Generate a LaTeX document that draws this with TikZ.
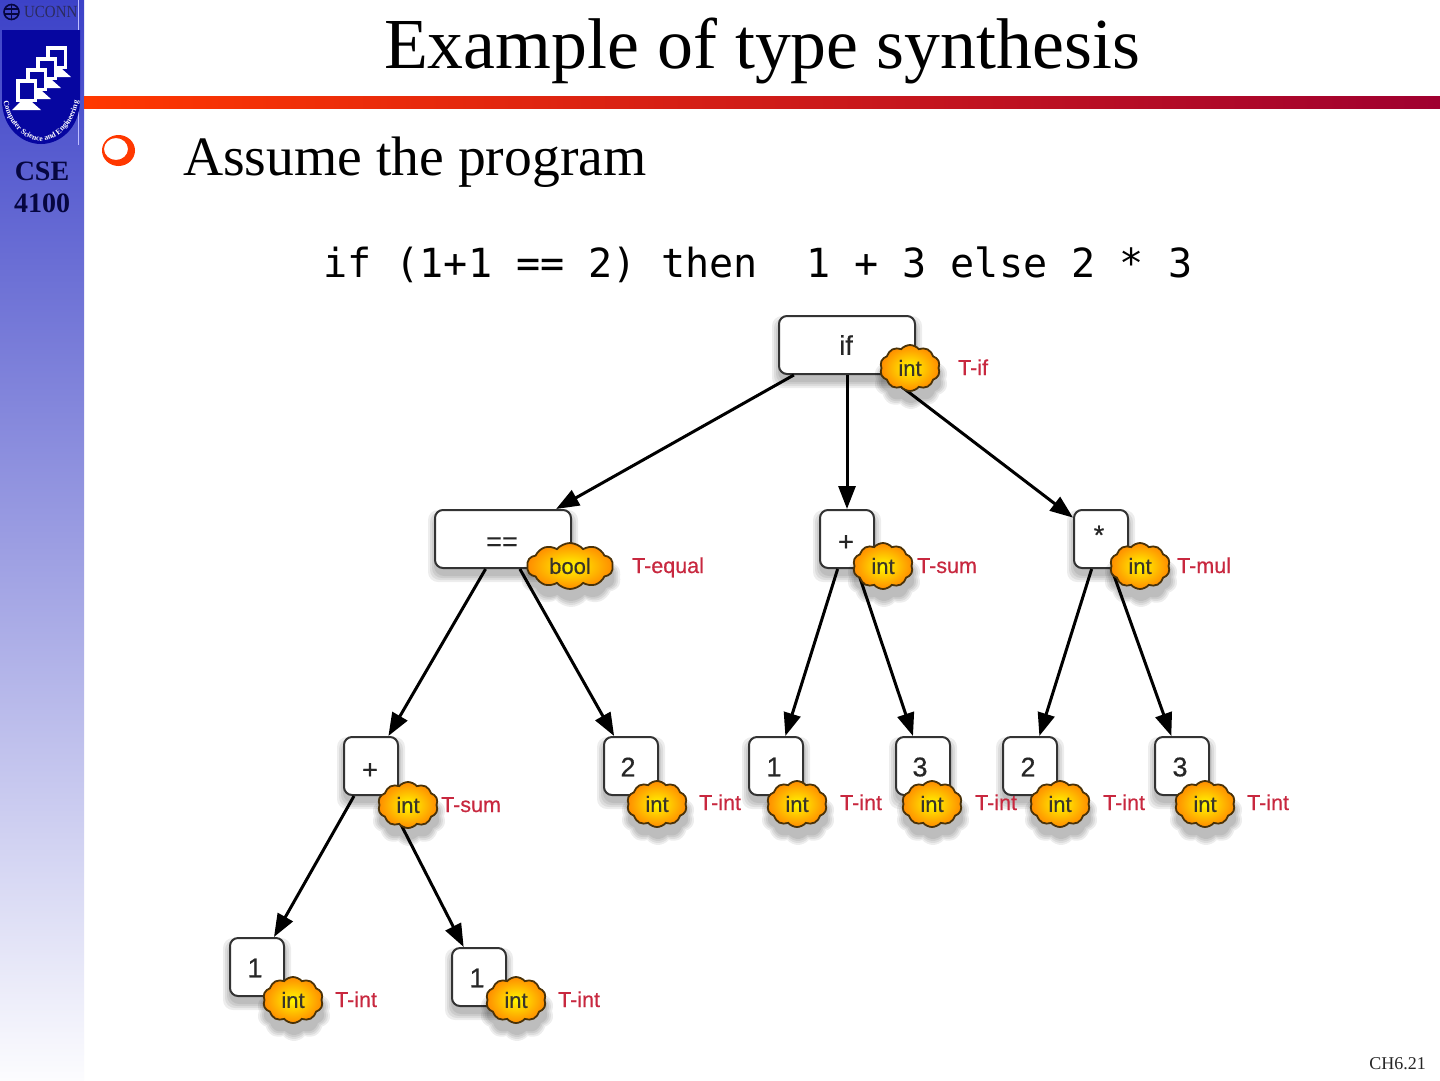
\documentclass[tikz,border=0pt]{standalone}
\usepackage{fontspec}
\setmainfont{Liberation Serif}
\newfontfamily\codefont{DejaVu Sans Mono}
\newfontfamily\diafont[FakeBold=0.5]{Liberation Sans}
\usetikzlibrary{shapes.symbols,arrows.meta,decorations.text}
\definecolor{navy}{HTML}{060640}
\definecolor{shieldblue}{HTML}{0606A0}
\definecolor{labred}{HTML}{C8283F}
\definecolor{cloudedge}{HTML}{4A3208}
\definecolor{sidetop}{RGB}{60,66,200}
\definecolor{sidemid}{RGB}{155,157,226}
\definecolor{sidebot}{RGB}{252,252,254}
\definecolor{barleft}{RGB}{255,56,0}
\definecolor{barright}{RGB}{160,0,48}
\tikzset{
  treebox/.style={draw=black!80,line width=2pt,rounded corners=8pt,fill=white,minimum height=58pt,inner sep=0pt},
  shadowbox/.style={fill=black,draw=none,rounded corners=10pt,opacity=0.07,inner sep=0pt},
  cloudshape/.style={cloud,cloud puffs=10,cloud puff arc=100,cloud ignores aspect,inner sep=0pt},
  typecloud/.style={cloudshape,draw=cloudedge,line width=1.8pt,inner color=yellow!95!orange,outer color=orange!90!yellow,font=\diafont\fontsize{22}{22}\selectfont,text=black!80!olive},
  shadowcloud/.style={cloudshape,fill=black,draw=none,opacity=0.07},
  boxtext/.style={font=\diafont\fontsize{27}{27}\selectfont,text=black!85,inner sep=0pt},
  rulelabel/.style={anchor=base west,inner sep=0pt,font=\diafont\fontsize{21.5}{22}\selectfont,text=labred},
  edge/.style={line width=3pt,black,-{Triangle[length=23pt,width=17pt]}},
  mon/.style={fill=white,draw=none},
  slidetext/.style={anchor=base west,inner sep=0pt}
}
% name, cx, cy, width
\newcommand{\treenode}[4]{%
  \foreach \g in {14,10,6,2}{\node[shadowbox,minimum width=#4pt+\g pt,minimum height=58pt+\g pt] at (#2,#3+7) {};}
  \node[treebox,minimum width=#4pt] (#1) at (#2,#3) {};
}
% name, cx, cy, width, height, text
\newcommand{\typecloud}[6]{%
  \foreach \g in {14,10,6,2}{\node[shadowcloud,minimum width=#4pt+\g pt,minimum height=#5pt+\g pt] at (#2+1,#3+11) {};}
  \node[typecloud,minimum width=#4pt,minimum height=#5pt] (#1) at (#2,#3) {#6};
}
\newcommand{\monitor}[2]{% left, top
  \fill[mon] (#1,#2) rectangle ++(21,23);
  \fill[shieldblue] (#1+3.5,#2+3.5) rectangle ++(14,16);
  \fill[mon] (#1+4,#2+23) -- ++(12,0) -- ++(9,8) -- ++(-29,0) -- cycle;
}
\begin{document}
\begin{tikzpicture}[x=1pt,y=-1pt]
\useasboundingbox (0,0) rectangle (1440,1080);
\fill[white] (0,0) rectangle (1440,1080);
% sidebar
\shade[top color=sidetop,bottom color=sidebot,middle color=sidemid] (0,0) rectangle (84,1080);
% bar
\shade[left color=barleft,right color=barright] (84,96) rectangle (1440,108);
% logo
\draw[white!75!blue,line width=0.7pt] (78,0) -- (78,145);
\draw[navy,line width=1.6pt] (11.5,12) circle (7.5);
\draw[navy,line width=1.2pt] (11.5,4) -- (11.5,20) (5,9) -- (18,9) (5,14) -- (18,14);
\node[inner sep=0pt,anchor=west,xscale=0.88,text=navy!85!white,font=\fontsize{17}{17}\selectfont] (uconn) at (24,12) {UCONN};
\fill[shieldblue] (2,30) -- (80,30) -- (80,100) .. controls (80,128) and (60,144) .. (41,144) .. controls (22,144) and (2,128) .. (2,100) -- cycle;
\monitor{46}{46}
\monitor{36}{57}
\monitor{26}{68}
\monitor{16}{79}
\path[postaction={decorate,decoration={text along path,text align=center,text={|\fontsize{7.8}{8}\selectfont\bfseries\color{white}|Computer Science and Engineering}}}] (3,98) .. controls (7,125) and (25,141) .. (41,141) .. controls (57,141) and (75,125) .. (79,98);
\node[inner sep=0pt,text=navy,align=center,font=\bfseries\fontsize{28}{32}\selectfont] (course) at (42,187) {CSE\\4100};
% title and text
\node[inner sep=0pt,anchor=base,font=\fontsize{71.8}{72}\selectfont] (title) at (762,68) {Example of type synthesis};
\fill[even odd rule,barleft] (118.5,150.5) ellipse (16.5 and 15.5) (116,149) ellipse (12 and 11);
\node[slidetext,font=\fontsize{55.6}{56}\selectfont] (assume) at (183,175) {Assume the program};
\node[slidetext,font=\codefont\fontsize{40.1}{40}\selectfont] (code) at (323,277) {if (1+1 == 2) then\ \ 1 + 3 else 2 * 3};
\node[anchor=base east,inner sep=0pt,font=\fontsize{18}{18}\selectfont,text=black!85] (page) at (1426,1069) {CH6.21};
% tree boxes
\treenode{nif}{847}{345}{136}
\treenode{neq}{503}{539}{136}
\treenode{nsum}{847}{539}{54}
\treenode{nmul}{1101}{539}{54}
\treenode{nplus}{371}{766}{54}
\treenode{ntwo}{631}{766}{54}
\treenode{none}{776}{766}{54}
\treenode{nthree}{923}{766}{54}
\treenode{ntwob}{1030}{766}{54}
\treenode{nthreeb}{1182}{766}{54}
\treenode{nla}{257}{967}{54}
\treenode{nlb}{479}{977}{54}
% box texts
\node[boxtext] (tif) at (846,345) {if};
\node[boxtext] (teq) at (502,544) {==};
\node[boxtext] (tsum) at (846,543) {+};
\node[boxtext] (tmul) at (1099,535) {*};
\node[boxtext] (tplus) at (370,771) {+};
\node[boxtext] (ttwo) at (628,767) {2};
\node[boxtext] (tone) at (774,767) {1};
\node[boxtext] (tthree) at (920,767) {3};
\node[boxtext] (ttwob) at (1028,767) {2};
\node[boxtext] (tthreeb) at (1180,767) {3};
\node[boxtext] (tla) at (255,968) {1};
\node[boxtext] (tlb) at (477,978) {1};
% edges
\draw[edge] (nif) -- (neq);
\draw[edge] (nif) -- (nsum);
\draw[edge] (nif) -- (nmul);
\draw[edge] (neq) -- (nplus);
\draw[edge] (neq) -- (ntwo);
\draw[edge] (nsum) -- (none);
\draw[edge] (nsum) -- (nthree);
\draw[edge] (nmul) -- (ntwob);
\draw[edge] (nmul) -- (nthreeb);
\draw[edge] (nplus) -- (nla);
\draw[edge] (nplus) -- (nlb);
% clouds
\typecloud{cif}{910}{368}{60}{46}{int}
\typecloud{ceq}{570}{566}{86}{46}{bool}
\typecloud{csum}{883}{566}{60}{46}{int}
\typecloud{cmul}{1140}{566}{60}{46}{int}
\typecloud{cplus}{408}{805}{60}{46}{int}
\typecloud{ctwo}{657}{804}{60}{46}{int}
\typecloud{cone}{797}{804}{60}{46}{int}
\typecloud{cthree}{932}{804}{60}{46}{int}
\typecloud{ctwob}{1060}{804}{60}{46}{int}
\typecloud{cthreeb}{1205}{804}{60}{46}{int}
\typecloud{cla}{293}{1000}{60}{46}{int}
\typecloud{clb}{516}{1000}{60}{46}{int}
% rule labels
\node[rulelabel] (rif) at (958,375) {T-if};
\node[rulelabel] (req) at (632,573) {T-equal};
\node[rulelabel] (rsum) at (917,573) {T-sum};
\node[rulelabel] (rmul) at (1177,573) {T-mul};
\node[rulelabel] (rplus) at (441,812) {T-sum};
\node[rulelabel] (rtwo) at (699,810) {T-int};
\node[rulelabel] (rone) at (840,810) {T-int};
\node[rulelabel] (rthree) at (975,810) {T-int};
\node[rulelabel] (rtwob) at (1103,810) {T-int};
\node[rulelabel] (rthreeb) at (1247,810) {T-int};
\node[rulelabel] (rla) at (335,1007) {T-int};
\node[rulelabel] (rlb) at (558,1007) {T-int};
\end{tikzpicture}
\end{document}
